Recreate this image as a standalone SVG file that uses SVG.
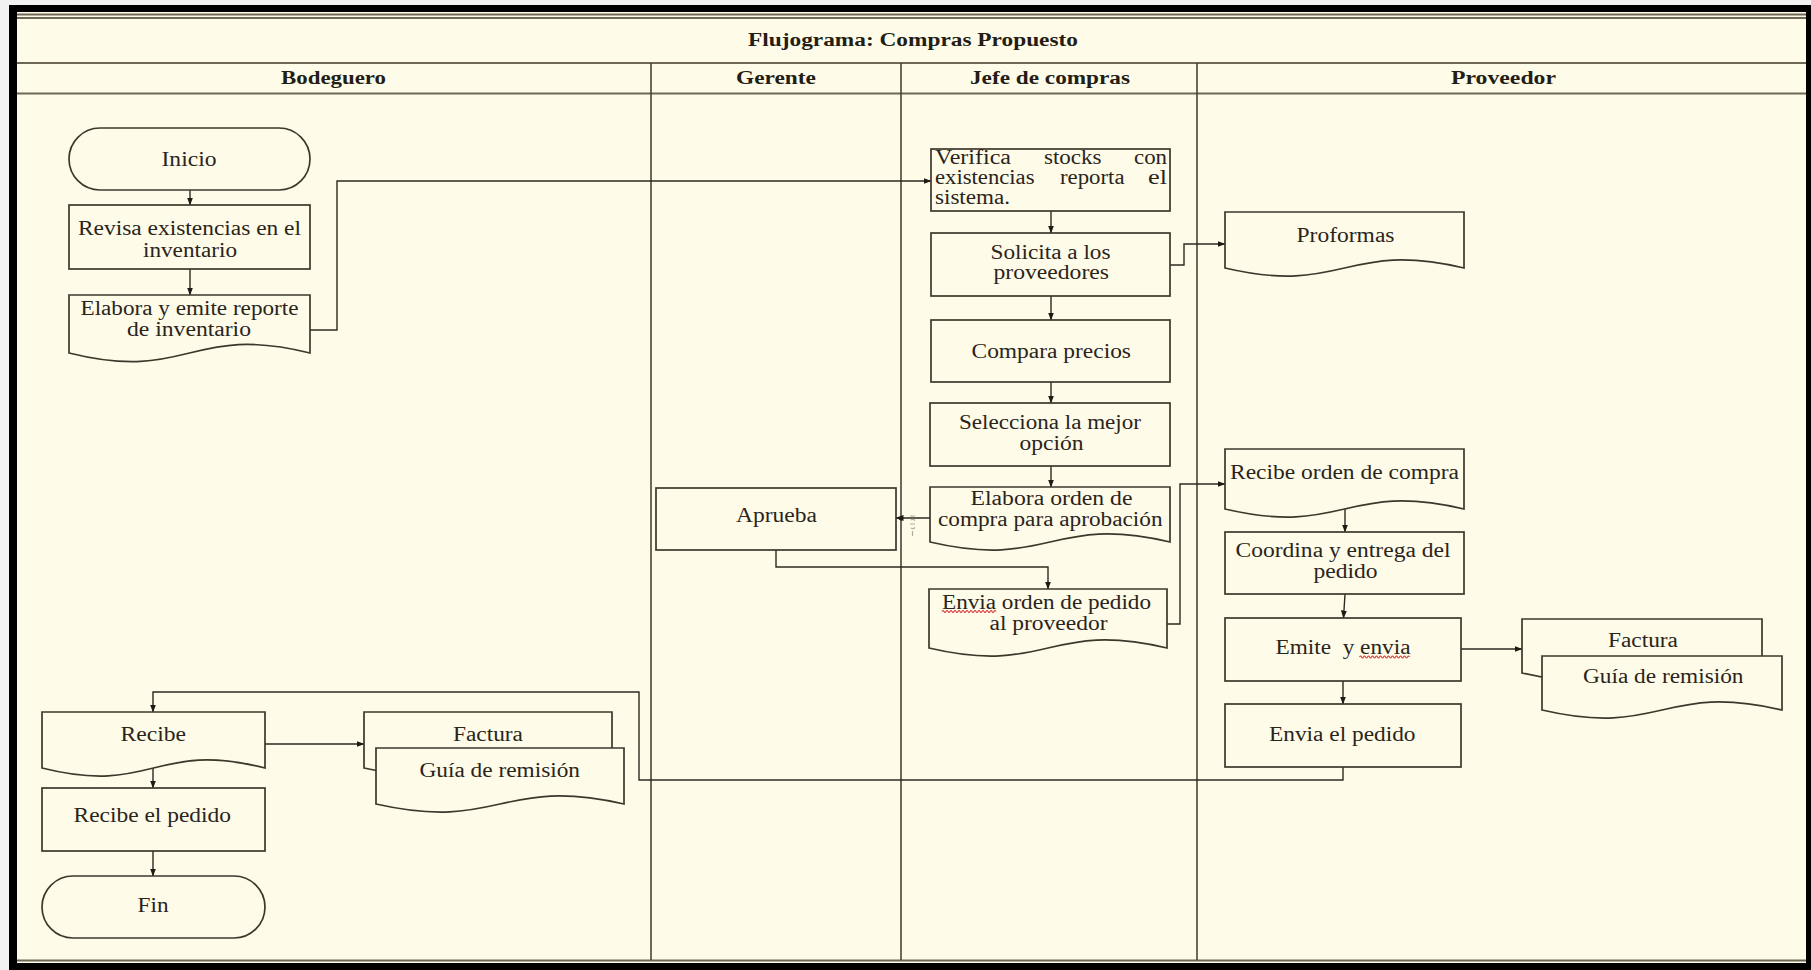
<svg xmlns="http://www.w3.org/2000/svg" width="1811" height="970" viewBox="0 0 1811 970">
  <defs>
    <style>
      .frame { fill: #000; }
      .paper { fill: #FEFCE9; }
      .rule { stroke: #6f6757; stroke-width: 2.2; fill: none; }
      .lane { stroke: #4a4337; stroke-width: 1.6; fill: none; }
      .shape { fill: #FEFCE9; stroke: #3e372c; stroke-width: 1.7; }
      .conn { fill: none; stroke: #2e281f; stroke-width: 1.4; }
      .hdr { font-family: "Liberation Serif", "Times New Roman", serif; font-weight: bold; font-size: 18.5px; fill: #231d14; }
      .txt { font-family: "Liberation Serif", "Times New Roman", serif; font-size: 20px; fill: #2a241b; }
      .spell { fill: none; stroke: #d8383a; stroke-width: 1.1; }
    </style>
    <marker id="arrow" markerUnits="userSpaceOnUse" markerWidth="8" markerHeight="6" refX="7.5" refY="3" orient="auto">
      <path d="M0,0 L8,3 L0,6 z" fill="#1f1a13"/>
    </marker>
  </defs>

  <!-- page, black frame and cream sheet -->
  <rect x="0" y="0" width="1811" height="970" fill="#f2f2f2"/>
  <rect class="frame" x="9" y="5" width="1802" height="965"/>
  <rect class="paper" x="17" y="12" width="1789" height="951"/>

  <!-- title row and lane header rows -->
  <g id="lanes">
    <line class="rule" x1="17" y1="14.5" x2="1806" y2="14.5" stroke="#8d8575"/>
    <line class="rule" x1="17" y1="18" x2="1806" y2="18" stroke="#a39b8b" stroke-width="1.4"/>
    <line class="rule" x1="17" y1="63" x2="1806" y2="63"/>
    <line class="rule" x1="17" y1="93.5" x2="1806" y2="93.5"/>
    <line class="rule" x1="17" y1="960.5" x2="1806" y2="960.5"/>
    <line class="lane" x1="651" y1="63" x2="651" y2="960"/>
    <line class="lane" x1="901" y1="63" x2="901" y2="960"/>
    <line class="lane" x1="1197" y1="63" x2="1197" y2="960"/>
    <text class="hdr" x="748" y="45.5" textLength="330" lengthAdjust="spacingAndGlyphs">Flujograma: Compras Propuesto</text>
    <text class="hdr" x="281" y="84" textLength="105" lengthAdjust="spacingAndGlyphs">Bodeguero</text>
    <text class="hdr" x="736" y="84" textLength="80" lengthAdjust="spacingAndGlyphs">Gerente</text>
    <text class="hdr" x="970" y="84" textLength="160" lengthAdjust="spacingAndGlyphs">Jefe de compras</text>
    <text class="hdr" x="1451" y="84" textLength="105" lengthAdjust="spacingAndGlyphs">Proveedor</text>
  </g>

  <!-- connectors -->
  <g id="connectors">
    <path class="conn" marker-end="url(#arrow)" d="M190,190 V205"/>
    <path class="conn" marker-end="url(#arrow)" d="M190,269 V295"/>
    <path class="conn" marker-end="url(#arrow)" d="M310,330 H337 V181 H931"/>
    <path class="conn" marker-end="url(#arrow)" d="M1051,211 V233"/>
    <path class="conn" marker-end="url(#arrow)" d="M1051,296 V320"/>
    <path class="conn" marker-end="url(#arrow)" d="M1170,265 H1184 V244 H1225"/>
    <path class="conn" marker-end="url(#arrow)" d="M1051,382 V403"/>
    <path class="conn" marker-end="url(#arrow)" d="M1051,466 V487"/>
    <path class="conn" marker-end="url(#arrow)" d="M930,518 H896"/>
    <circle cx="901" cy="518.5" r="2" fill="#1f1a13"/>
    <path class="conn" marker-end="url(#arrow)" d="M776,550 V567 H1048 V589"/>
    <path class="conn" marker-end="url(#arrow)" d="M1167,624 H1180 V484 H1225"/>
    <path class="conn" marker-end="url(#arrow)" d="M1345,509 V532"/>
    <path class="conn" marker-end="url(#arrow)" d="M1345,594 L1343.5,618"/>
    <path class="conn" marker-end="url(#arrow)" d="M1461,649 H1522"/>
    <path class="conn" marker-end="url(#arrow)" d="M1343,681 V704"/>
    <path class="conn" marker-end="url(#arrow)" d="M1343,767 V780 H639 V692 H153 V712"/>
    <path class="conn" marker-end="url(#arrow)" d="M265,744 H364"/>
    <path class="conn" marker-end="url(#arrow)" d="M153,768 V788"/>
    <path class="conn" marker-end="url(#arrow)" d="M153,851 V876"/>
    <!-- faint mark beside the approval link -->
    <path d="M910,516 h5 M911,520 q2,-1.5 4,0.5 M910,524 h5 M911,528 q2,1.5 4,-0.5 M912.5,531 v5" fill="none" stroke="#b3ab9b" stroke-width="1.2"/>
  </g>

  <!-- Bodeguero lane -->
  <g id="inicio">
    <rect class="shape" x="69" y="128" width="241" height="62" rx="31" ry="31"/>
    <text class="txt" x="161.5" y="165.5" textLength="55" lengthAdjust="spacingAndGlyphs">Inicio</text>
  </g>
  <g id="revisa">
    <rect class="shape" x="69" y="205" width="241" height="64"/>
    <text class="txt" x="78" y="234.5" textLength="223" lengthAdjust="spacingAndGlyphs">Revisa existencias en el</text>
    <text class="txt" x="143" y="256.5" textLength="94" lengthAdjust="spacingAndGlyphs">inventario</text>
  </g>
  <g id="reporte">
    <path class="shape" d="M69,295 H310 V353 C189.5,323 189.5,383 69,353 Z"/>
    <text class="txt" x="80.5" y="314.5" textLength="218" lengthAdjust="spacingAndGlyphs">Elabora y emite reporte</text>
    <text class="txt" x="127" y="335.5" textLength="124" lengthAdjust="spacingAndGlyphs">de inventario</text>
  </g>
  <g id="recibe">
    <path class="shape" d="M42,712 H265 V768 C153.5,740 153.5,796 42,768 Z"/>
    <text class="txt" x="120.5" y="740.5" textLength="65.5" lengthAdjust="spacingAndGlyphs">Recibe</text>
  </g>
  <g id="docs-bodega">
    <path class="shape" d="M364,712 H612 V768 C488,740 488,796 364,768 Z"/>
    <text class="txt" x="453" y="741" textLength="70" lengthAdjust="spacingAndGlyphs">Factura</text>
    <path class="shape" d="M376,748 H624 V804 C500,776 500,832 376,804 Z"/>
    <text class="txt" x="419.5" y="777" textLength="160.5" lengthAdjust="spacingAndGlyphs">Guía de remisión</text>
  </g>
  <g id="recibe-pedido">
    <rect class="shape" x="42" y="788" width="223" height="63"/>
    <text class="txt" x="73.5" y="822" textLength="157.5" lengthAdjust="spacingAndGlyphs">Recibe el pedido</text>
  </g>
  <g id="fin">
    <rect class="shape" x="42" y="876" width="223" height="62" rx="31" ry="31"/>
    <text class="txt" x="137.5" y="912" textLength="31" lengthAdjust="spacingAndGlyphs">Fin</text>
  </g>

  <!-- Gerente lane -->
  <g id="aprueba">
    <rect class="shape" x="656" y="488" width="240" height="62"/>
    <text class="txt" x="736" y="521.5" textLength="81" lengthAdjust="spacingAndGlyphs">Aprueba</text>
  </g>

  <!-- Jefe de compras lane -->
  <g id="verifica">
    <rect class="shape" x="931" y="149" width="239" height="62"/>
    <text class="txt" x="935" y="163.5" textLength="76" lengthAdjust="spacingAndGlyphs">Verifica</text>
    <text class="txt" x="1044" y="163.5" textLength="57.5" lengthAdjust="spacingAndGlyphs">stocks</text>
    <text class="txt" x="1134" y="163.5" textLength="33" lengthAdjust="spacingAndGlyphs">con</text>
    <text class="txt" x="935" y="183.5" textLength="99.5" lengthAdjust="spacingAndGlyphs">existencias</text>
    <text class="txt" x="1060" y="183.5" textLength="64.5" lengthAdjust="spacingAndGlyphs">reporta</text>
    <text class="txt" x="1148" y="183.5" textLength="19" lengthAdjust="spacingAndGlyphs">el</text>
    <text class="txt" x="935" y="204" textLength="75" lengthAdjust="spacingAndGlyphs">sistema.</text>
  </g>
  <g id="solicita">
    <rect class="shape" x="931" y="233" width="239" height="63"/>
    <text class="txt" x="990.5" y="258.5" textLength="120" lengthAdjust="spacingAndGlyphs">Solicita a los</text>
    <text class="txt" x="993.5" y="279" textLength="115.5" lengthAdjust="spacingAndGlyphs">proveedores</text>
  </g>
  <g id="compara">
    <rect class="shape" x="931" y="320" width="239" height="62"/>
    <text class="txt" x="971.5" y="357.5" textLength="159.5" lengthAdjust="spacingAndGlyphs">Compara precios</text>
  </g>
  <g id="selecciona">
    <rect class="shape" x="930" y="403" width="240" height="63"/>
    <text class="txt" x="959" y="429" textLength="182" lengthAdjust="spacingAndGlyphs">Selecciona la mejor</text>
    <text class="txt" x="1019.5" y="450" textLength="64" lengthAdjust="spacingAndGlyphs">opción</text>
  </g>
  <g id="orden-compra">
    <path class="shape" d="M930,487 H1170 V542 C1050,514 1050,570 930,542 Z"/>
    <text class="txt" x="970.5" y="505" textLength="162" lengthAdjust="spacingAndGlyphs">Elabora orden de</text>
    <text class="txt" x="938" y="525.5" textLength="224.5" lengthAdjust="spacingAndGlyphs">compra para aprobación</text>
  </g>
  <g id="envia-orden">
    <path class="shape" d="M929,589 H1167 V648 C1048,620 1048,676 929,648 Z"/>
    <text class="txt" x="942" y="609" textLength="209" lengthAdjust="spacingAndGlyphs">Envia orden de pedido</text>
    <path class="spell" d="M942,611.5 q1,-2 2,0 t2,0 t2,0 t2,0 t2,0 t2,0 t2,0 t2,0 t2,0 t2,0 t2,0 t2,0 t2,0 t2,0 t2,0 t2,0 t2,0 t2,0 t2,0 t2,0 t2,0 t2,0 t2,0 t2,0 t2,0 t2,0 t2,0"/>
    <text class="txt" x="989.5" y="630" textLength="118" lengthAdjust="spacingAndGlyphs">al proveedor</text>
  </g>

  <!-- Proveedor lane -->
  <g id="proformas">
    <path class="shape" d="M1225,212 H1464 V268 C1344.5,240 1344.5,296 1225,268 Z"/>
    <text class="txt" x="1296.5" y="241.5" textLength="98" lengthAdjust="spacingAndGlyphs">Proformas</text>
  </g>
  <g id="recibe-orden">
    <path class="shape" d="M1225,449 H1464 V509 C1344.5,481 1344.5,537 1225,509 Z"/>
    <text class="txt" x="1230" y="479" textLength="229" lengthAdjust="spacingAndGlyphs">Recibe orden de compra</text>
  </g>
  <g id="coordina">
    <rect class="shape" x="1225" y="532" width="239" height="62"/>
    <text class="txt" x="1235.5" y="556.5" textLength="215" lengthAdjust="spacingAndGlyphs">Coordina y entrega del</text>
    <text class="txt" x="1313.5" y="578" textLength="64" lengthAdjust="spacingAndGlyphs">pedido</text>
  </g>
  <g id="emite">
    <rect class="shape" x="1225" y="618" width="236" height="63"/>
    <text class="txt" x="1275.5" y="654" textLength="135" lengthAdjust="spacingAndGlyphs" style="white-space:pre">Emite  y envia</text>
    <path class="spell" d="M1359.5,657 q1,-2 2,0 t2,0 t2,0 t2,0 t2,0 t2,0 t2,0 t2,0 t2,0 t2,0 t2,0 t2,0 t2,0 t2,0 t2,0 t2,0 t2,0 t2,0 t2,0 t2,0 t2,0 t2,0 t2,0 t2,0 t2,0"/>
  </g>
  <g id="docs-proveedor">
    <path class="shape" d="M1522,619 H1762 V673 C1642,645 1642,701 1522,673 Z"/>
    <text class="txt" x="1608" y="647" textLength="70" lengthAdjust="spacingAndGlyphs">Factura</text>
    <path class="shape" d="M1542,656 H1782 V710 C1662,682 1662,738 1542,710 Z"/>
    <text class="txt" x="1583" y="683" textLength="160.5" lengthAdjust="spacingAndGlyphs">Guía de remisión</text>
  </g>
  <g id="envia-pedido">
    <rect class="shape" x="1225" y="704" width="236" height="63"/>
    <text class="txt" x="1269" y="741" textLength="146.5" lengthAdjust="spacingAndGlyphs">Envia el pedido</text>
  </g>
</svg>
